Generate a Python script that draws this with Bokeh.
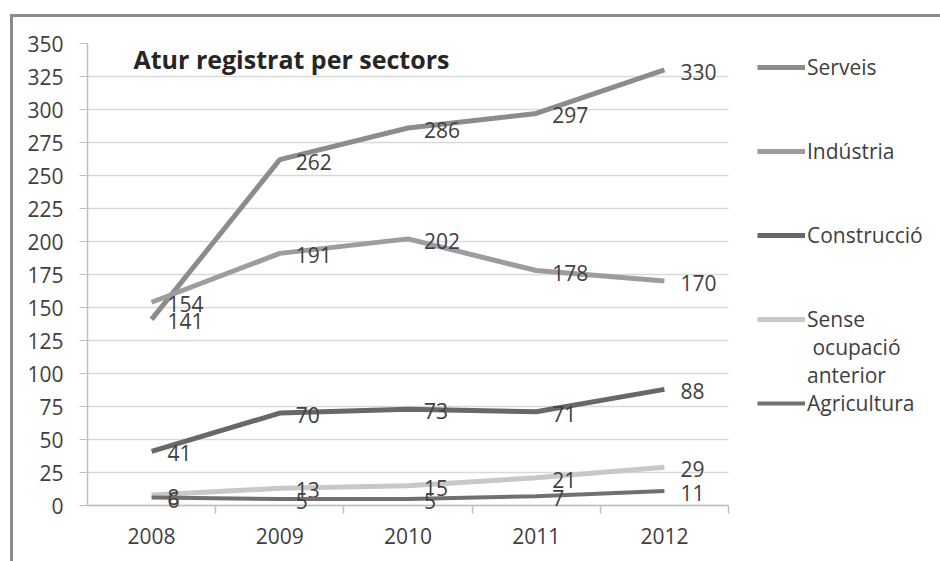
import numpy as np
from bokeh.plotting import figure
from bokeh.models import (Range1d, FixedTicker, Legend, LegendItem, Label,
                          ColumnDataSource, Grid)
from bokeh.embed import file_html
from bokeh.resources import INLINE

years = ["2008", "2009", "2010", "2011", "2012"]
serveis = [141, 262, 286, 297, 330]
industria = [154, 191, 202, 178, 170]
construccio = [41, 70, 73, 71, 88]
sense = [8, 13, 15, 21, 29]
agricultura = [6, 5, 5, 7, 11]
y_ticks = list(range(0, 351, 25))

series = [
    ("Serveis", serveis, "#8c8c8c", 5),
    ("Indústria", industria, "#9d9d9d", 5),
    ("Construcció", construccio, "#686868", 5),
    ("Sense", sense, "#c8c8c8", 5),
    ("Agricultura", agricultura, "#707070", 4),
]
extra_legend_lines = ["\u00a0ocupació", "anterior"]

FONT = "Open Sans"
TXT = "#404040"
FS = "21px"
AX = "#bfbfbf"

n = len(years)
unit_px = 641 / n               # pixel width of one category slot
x_end = (940 - 87) / unit_px    # frame reaches the right edge (legend lives inside)
y_px = 462 / 350                # pixels per unit on y
y_start = -15 / y_px            # room below 0 so low data labels are not clipped
tick_len = 8 / y_px

p = figure(width=940, height=561, output_backend="svg", toolbar_location=None,
           x_range=Range1d(0, x_end), y_range=Range1d(y_start, 350),
           min_border_left=87, min_border_right=0, min_border_top=43,
           min_border_bottom=41)
p.outline_line_color = None
p.background_fill_color = None
p.border_fill_color = None
p.styles = {
    "background-color": "white",
    "background-image": "linear-gradient(#8a8a8a,#8a8a8a), linear-gradient(#8a8a8a,#8a8a8a)",
    "background-size": "100% 3px, 3px 100%",
    "background-position": "10px 14px, 10px 14px",
    "background-repeat": "no-repeat",
}

xs = np.arange(n) + 0.5

# x axis: only the year labels; line and ticks are drawn at y = 0 by grids
p.xaxis.ticker = FixedTicker(ticks=list(xs))
p.xaxis.major_label_overrides = {float(x): y for x, y in zip(xs, years)}
p.xaxis.major_tick_line_color = None
p.xaxis.major_tick_out = 0
p.xaxis.minor_tick_line_color = None
p.xaxis.axis_line_color = None
p.xaxis.major_label_text_font = FONT
p.xaxis.major_label_text_font_size = FS
p.xaxis.major_label_text_color = TXT
p.xaxis.major_label_standoff = 7

p.yaxis.bounds = (0, 350)
p.yaxis.ticker = FixedTicker(ticks=y_ticks)
p.yaxis.axis_line_color = AX
p.yaxis.axis_line_width = 1.5
p.yaxis.major_tick_line_color = AX
p.yaxis.major_tick_out = 8
p.yaxis.major_tick_in = 0
p.yaxis.minor_tick_line_color = None
p.yaxis.major_label_text_font = FONT
p.yaxis.major_label_text_font_size = FS
p.yaxis.major_label_text_color = TXT
p.yaxis.major_label_standoff = 16

# category boundary ticks below the zero line
p.xgrid.ticker = FixedTicker(ticks=list(range(n + 1)))
p.xgrid.cross_bounds = (-tick_len, 0)
p.xgrid.grid_line_color = AX
p.xgrid.grid_line_width = 1.5

p.ygrid.grid_line_color = "#d9d9d9"
p.ygrid.grid_line_width = 1.5
p.ygrid.cross_bounds = (0, n)

# zero (category axis) line
p.add_layout(Grid(dimension=1, ticker=FixedTicker(ticks=[0]), cross_bounds=(0, n),
                  grid_line_color=AX, grid_line_width=1.5))

items = []
for name, vals, color, lw in series:
    src = ColumnDataSource(dict(x=xs, y=vals, t=[str(v) for v in vals]))
    r = p.line("x", "y", source=src, line_color=color, line_width=lw)
    p.text("x", "y", text="t", source=src, x_offset=16, y_offset=2,
           text_font_size=FS, text_color=TXT, text_baseline="middle",
           text_align="left", text_font={"value": FONT})
    items.append(LegendItem(label=name, renderers=[r]))

# legend anchors: (x from frame left, y from frame bottom), frame bottom is 15px below y=0
legend = Legend(items=items, location=(670, 87 + 15), orientation="vertical",
                glyph_width=48, glyph_height=30, label_height=30,
                spacing=54, padding=0, margin=0, label_standoff=2,
                label_text_font=FONT, label_text_font_size=FS,
                label_text_color=TXT, border_line_color=None,
                background_fill_alpha=0)
p.add_layout(legend, "center")

dummy = p.line(x=[], y=[], line_alpha=0)
legend2 = Legend(items=[LegendItem(label=t, renderers=[dummy]) for t in extra_legend_lines],
                 location=(670, 116 + 15), orientation="vertical",
                 glyph_width=48, glyph_height=28, label_height=28,
                 spacing=0, padding=0, margin=0, label_standoff=2,
                 label_text_font=FONT, label_text_font_size=FS,
                 label_text_color=TXT, border_line_color=None,
                 background_fill_alpha=0)
p.add_layout(legend2, "center")

p.add_layout(Label(x=133 - 87, y=505 - 58 + 15, x_units="screen", y_units="screen",
                   text="Atur registrat per sectors", text_font=FONT,
                   text_font_size="25px", text_font_style="bold",
                   text_color="#262626", text_baseline="middle"))

open("out.html", "w").write(file_html(p, INLINE))
